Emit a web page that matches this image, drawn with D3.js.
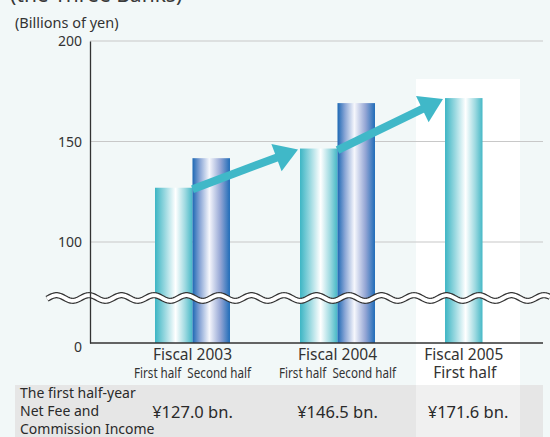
<!DOCTYPE html>
<html lang="en">
<head>
<meta charset="UTF-8">
<title>Net Fee and Commission Income</title>
<script src="https://cdn.jsdelivr.net/npm/d3@7"></script>
<style>
  body { margin: 0; background: #f2f8f8; overflow: hidden; }
  svg { display: block; font-family: "Noto Sans", sans-serif; }
</style>
</head>
<body>
<script>
// data
var fiscalYears = ["Fiscal 2003", "Fiscal 2004", "Fiscal 2005"];
var halves = ["First half", "Second half"];
var firstHalf = [127.0, 146.5, 171.6];
var secondHalf = [141.7, 169.1, null];
var yTicks = [200, 150, 100, 0];
var tableLabel = ["The first half-year", "Net Fee and", "Commission Income"];
var tableValues = ["¥127.0 bn.", "¥146.5 bn.", "¥171.6 bn."];

var width = 550, height = 437;

var svg = d3.select("body").append("svg")
    .attr("width", width)
    .attr("height", height);

// gradients for the bars
var defs = svg.append("defs");
function gradient(id, stops) {
    var g = defs.append("linearGradient").attr("id", id)
        .attr("x1", "0%").attr("x2", "100%").attr("y1", "0%").attr("y2", "0%");
    stops.forEach(function (s) {
        g.append("stop").attr("offset", s[0]).attr("stop-color", s[1]);
    });
}
gradient("cyan", [["0%", "#3cb5c4"], ["25%", "#93d6de"], ["55%", "#ffffff"], ["80%", "#9fdae1"], ["100%", "#45b8c6"]]);
gradient("blue", [["0%", "#1d68b4"], ["20%", "#8aa6d6"], ["45%", "#f6f7fc"], ["75%", "#93a5d4"], ["100%", "#1f6cb8"]]);

// scales: broken y axis (0..100 squeezed)
var x0 = d3.scaleBand().domain(fiscalYears).range([120, 555])
    .paddingInner(0.483).paddingOuter(0.2414);
var x1 = d3.scaleBand().domain(halves).range([0, x0.bandwidth()]);
var y = d3.scaleLinear().domain([0, 100, 200]).range([343, 242, 41]);

var plotLeft = 90, plotRight = 543;
var last = fiscalYears[fiscalYears.length - 1];
var panelX = x0(last) - 29, panelW = 104;

// title (cut off at the top)
svg.append("text").attr("x", 10).attr("y", 2)
    .attr("font-size", 21).attr("fill", "#3a3a3a")
    .text("(the Three Banks)");

svg.append("text").attr("x", 15).attr("y", 28)
    .attr("font-size", 14.5).attr("fill", "#333")
    .text("(Billions of yen)");

// white panel behind the latest half
svg.append("rect")
    .attr("x", panelX).attr("y", 79)
    .attr("width", panelW).attr("height", 385 - 79)
    .attr("fill", "#fff");

// table band
svg.append("rect").attr("x", 15).attr("y", 385)
    .attr("width", plotRight - 15).attr("height", height - 385)
    .attr("fill", "#e6e6e6");
svg.append("rect").attr("x", panelX).attr("y", 385)
    .attr("width", panelW).attr("height", height - 385)
    .attr("fill", "#f0f0f0");

// gridlines
svg.append("g").selectAll("line")
    .data(yTicks.filter(function (d) { return d > 0; }))
    .enter().append("line")
    .attr("x1", plotLeft).attr("x2", plotRight)
    .attr("y1", function (d) { return y(d); })
    .attr("y2", function (d) { return y(d); })
    .attr("stroke", "#c8c8c8").attr("stroke-width", 1.2);

// bars
var bars = [];
fiscalYears.forEach(function (f, i) {
    bars.push({ year: f, half: halves[0], v: firstHalf[i] });
    if (secondHalf[i] != null) bars.push({ year: f, half: halves[1], v: secondHalf[i] });
});

svg.append("g").selectAll("rect")
    .data(bars)
    .enter().append("rect")
    .attr("x", function (d) { return x0(d.year) + x1(d.half); })
    .attr("y", function (d) { return y(d.v); })
    .attr("width", x1.bandwidth())
    .attr("height", function (d) { return y(0) - y(d.v); })
    .attr("fill", function (d) { return d.half === halves[0] ? "url(#cyan)" : "url(#blue)"; });

// axis break wave
var wavePts = d3.range(47, 551, 1).map(function (x) {
    return [x, 298 - 2.8 * Math.cos(2 * Math.PI * (x - 89) / 32.5)];
});
var wave = d3.line()(wavePts);
svg.append("path").attr("d", wave).attr("fill", "none")
    .attr("stroke", "#333").attr("stroke-width", 6.2);
svg.append("path").attr("d", wave).attr("fill", "none")
    .attr("stroke", "#fff").attr("stroke-width", 3.8);

// y axis
var yAxis = svg.append("g")
    .attr("transform", "translate(" + plotLeft + ",0)")
    .call(d3.axisLeft(y).tickValues(yTicks).tickSize(0).tickPadding(8)
        .tickFormat(d3.format("d")));
yAxis.select(".domain").attr("stroke", "#333").attr("stroke-width", 1.3);
yAxis.selectAll("text")
    .attr("font-size", 14).attr("fill", "#333")
    .attr("font-family", "'Noto Sans', sans-serif")
    .attr("dy", function (d) { return d === 0 ? "0.62em" : "0.34em"; });

// x axis line
svg.append("line")
    .attr("x1", plotLeft).attr("x2", plotRight)
    .attr("y1", y(0)).attr("y2", y(0))
    .attr("stroke", "#333").attr("stroke-width", 1.3);

// arrows between first halves
function arrow(xa, ya, xb, yb) {
    var ang = Math.atan2(yb - ya, xb - xa);
    var c = Math.cos(ang), s = Math.sin(ang);
    var headLen = 23, headHalf = 14.5;
    var bx = xb - headLen * c, by = yb - headLen * s;
    svg.append("line")
        .attr("x1", xa).attr("y1", ya).attr("x2", bx + 2 * c).attr("y2", by + 2 * s)
        .attr("stroke", "#40b8c8").attr("stroke-width", 8);
    svg.append("path")
        .attr("d", "M" + xb + "," + yb +
            "L" + (bx - headHalf * s) + "," + (by + headHalf * c) +
            "L" + (bx + headHalf * s) + "," + (by - headHalf * c) + "Z")
        .attr("fill", "#40b8c8");
}
for (var i = 0; i < fiscalYears.length - 1; i++) {
    arrow(x0(fiscalYears[i]) + x1.bandwidth(), y(firstHalf[i]) + 1.5,
        x0(fiscalYears[i + 1]) - 2, y(firstHalf[i + 1]) + 1);
}

// category labels
function labelCenter(f, i) {
    return secondHalf[i] != null ? x0(f) + x0.bandwidth() / 2 : x0(f) + x1.bandwidth() / 2;
}
var labels = svg.append("g").attr("fill", "#333").attr("text-anchor", "middle");
fiscalYears.forEach(function (f, i) {
    var cx = labelCenter(f, i);
    labels.append("text").attr("x", cx).attr("y", 360)
        .attr("font-size", 15.5).text(f);
    if (secondHalf[i] != null) {
        labels.append("text").attr("x", cx).attr("y", 378)
            .attr("font-size", 15)
            .attr("textLength", 117).attr("lengthAdjust", "spacingAndGlyphs")
            .text(halves[0] + "\u00a0\u00a0" + halves[1]);
    } else {
        labels.append("text").attr("x", cx + 1).attr("y", 378)
            .attr("font-size", 15.5).text(halves[0]);
    }
});

// table text
svg.append("g").selectAll("text")
    .data(tableLabel)
    .enter().append("text")
    .attr("x", 20)
    .attr("y", function (d, i) { return 398 + i * 18; })
    .attr("font-size", 14).attr("fill", "#2a2a2a")
    .text(function (d) { return d; });

svg.append("g").selectAll("text")
    .data(tableValues)
    .enter().append("text")
    .attr("x", function (d, i) {
        return secondHalf[i] != null ? labelCenter(fiscalYears[i], i) : panelX + panelW / 2;
    })
    .attr("y", 418)
    .attr("text-anchor", "middle")
    .attr("font-size", 16.5).attr("fill", "#2a2a2a")
    .text(function (d) { return d; });
</script>
</body>
</html>
